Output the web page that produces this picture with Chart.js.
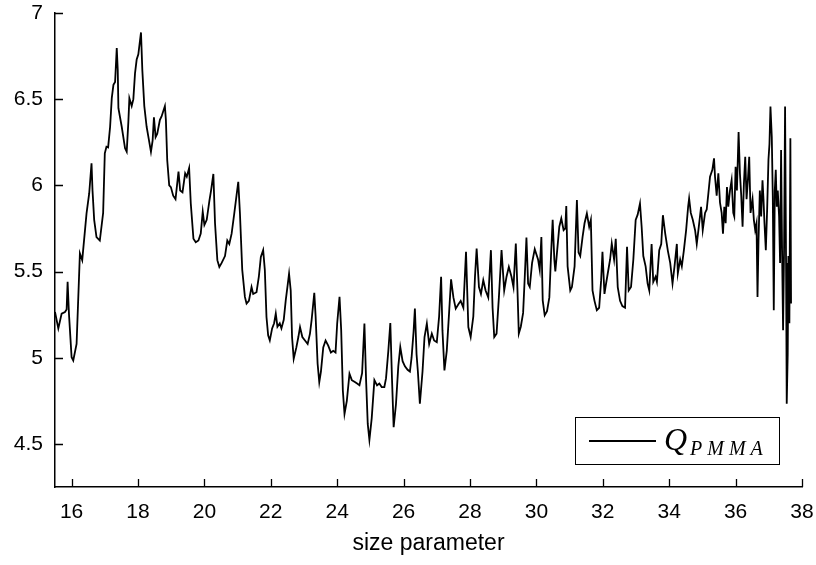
<!DOCTYPE html>
<html>
<head>
<meta charset="utf-8">
<script src="https://cdn.jsdelivr.net/npm/chart.js@4/dist/chart.umd.min.js"></script>
<style>
  html, body { margin: 0; padding: 0; background: #fff; }
  #wrap { width: 816px; height: 565px; }
</style>
</head>
<body>
<div id="wrap"><canvas id="myChart" width="816" height="565"></canvas></div>
<script>
// size parameter (x) and Q_PMMA (y)
var sizeParam = [
  15.50,15.60,15.70,15.80,15.85,15.88,15.92,16.00,16.05,16.15,16.25,16.32,16.45,16.53,16.60,16.63,16.68,16.75,16.85,16.95,
  17.00,17.05,17.10,17.16,17.21,17.26,17.31,17.36,17.39,17.41,17.51,17.61,17.66,17.71,17.74,17.81,17.86,17.91,17.96,18.01,
  18.09,18.13,18.19,18.26,18.33,18.39,18.44,18.48,18.53,18.58,18.66,18.71,18.76,18.81,18.84,18.88,18.94,18.99,19.06,19.13,
  19.22,19.27,19.34,19.42,19.47,19.54,19.59,19.67,19.74,19.82,19.89,19.95,20.00,20.07,20.15,20.20,20.27,20.32,20.39,20.45,
  20.52,20.62,20.69,20.75,20.82,20.90,20.97,21.02,21.07,21.14,21.22,21.27,21.34,21.42,21.47,21.57,21.64,21.70,21.77,21.82,
  21.87,21.92,21.97,22.04,22.10,22.15,22.20,22.27,22.32,22.39,22.45,22.50,22.55,22.60,22.64,22.69,22.77,22.83,22.88,22.95,
  23.03,23.11,23.18,23.23,23.31,23.35,23.41,23.46,23.51,23.58,23.65,23.73,23.81,23.88,23.95,24.00,24.07,24.12,24.17,24.22,
  24.29,24.37,24.44,24.52,24.60,24.67,24.75,24.82,24.87,24.92,24.97,25.04,25.12,25.20,25.27,25.34,25.42,25.47,25.54,25.60,
  25.65,25.70,25.77,25.84,25.90,25.97,26.04,26.12,26.19,26.24,26.30,26.34,26.39,26.43,26.49,26.57,26.63,26.70,26.77,26.85,
  26.92,27.00,27.07,27.13,27.17,27.23,27.30,27.37,27.43,27.50,27.57,27.65,27.72,27.80,27.88,27.95,28.02,28.10,28.15,28.20,
  28.27,28.33,28.40,28.47,28.55,28.63,28.68,28.73,28.80,28.87,28.95,29.03,29.10,29.17,29.25,29.31,29.38,29.43,29.47,29.53,
  29.60,29.65,29.70,29.75,29.80,29.87,29.95,30.05,30.10,30.15,30.19,30.25,30.32,30.39,30.44,30.49,30.54,30.57,30.62,30.69,
  30.75,30.82,30.87,30.90,30.94,31.02,31.07,31.15,31.22,31.27,31.32,31.39,31.45,31.52,31.59,31.64,31.69,31.75,31.82,31.89,
  31.95,31.99,32.05,32.09,32.15,32.22,32.27,32.34,32.39,32.45,32.52,32.59,32.67,32.73,32.78,32.85,32.92,32.99,33.05,33.12,
  33.17,33.22,33.29,33.35,33.40,33.47,33.52,33.59,33.63,33.70,33.76,33.81,33.88,33.96,34.03,34.10,34.16,34.23,34.26,34.33,
  34.38,34.44,34.51,34.57,34.60,34.65,34.71,34.78,34.83,34.88,34.96,35.01,35.08,35.13,35.18,35.23,35.30,35.35,35.38,35.43,
  35.48,35.53,35.58,35.62,35.66,35.70,35.74,35.78,35.83,35.88,35.93,35.96,36.00,36.04,36.09,36.13,36.17,36.21,36.25,36.29,
  36.33,36.37,36.41,36.45,36.51,36.55,36.59,36.63,36.66,36.69,36.73,36.77,36.81,36.84,36.87,36.91,36.95,36.99,37.02,37.05,
  37.09,37.12,37.15,37.18,37.21,37.24,37.27,37.31,37.34,37.37,37.40,37.43,37.46,37.49,37.52,37.54,37.57,37.59,37.62,37.65,
  37.67
];
var qPMMA = [
  5.265,5.17,5.256,5.265,5.28,5.44,5.256,5.003,4.984,5.08,5.605,5.566,5.837,5.953,6.128,5.97,5.80,5.70,5.68,5.84,
  6.186,6.224,6.22,6.34,6.506,6.583,6.60,6.797,6.67,6.448,6.34,6.215,6.195,6.37,6.506,6.46,6.50,6.65,6.73,6.76,
  6.887,6.67,6.46,6.34,6.263,6.195,6.26,6.395,6.28,6.30,6.38,6.40,6.43,6.46,6.38,6.147,6.00,5.99,5.94,5.92,
  6.08,5.97,5.96,6.07,6.05,6.10,5.895,5.69,5.67,5.68,5.72,5.847,5.77,5.80,5.91,5.97,6.066,5.78,5.566,5.527,
  5.55,5.59,5.68,5.66,5.72,5.837,5.945,6.021,5.84,5.51,5.353,5.314,5.33,5.41,5.37,5.38,5.47,5.585,5.624,5.51,
  5.236,5.13,5.10,5.17,5.20,5.256,5.18,5.20,5.17,5.22,5.333,5.41,5.488,5.39,5.12,4.994,5.06,5.12,5.178,5.12,
  5.10,5.08,5.14,5.22,5.376,5.24,4.965,4.858,4.92,5.06,5.10,5.07,5.03,5.04,5.03,5.20,5.353,5.16,4.81,4.674,
  4.75,4.907,4.87,4.86,4.85,4.84,4.91,5.198,4.87,4.616,4.523,4.65,4.87,4.84,4.85,4.83,4.83,4.88,5.04,5.201,
  4.88,4.597,4.73,4.95,5.062,4.98,4.95,4.93,4.92,5.00,5.15,5.285,5.02,4.92,4.733,4.92,5.12,5.198,5.08,5.14,
  5.10,5.09,5.24,5.469,5.16,4.926,5.04,5.26,5.455,5.35,5.285,5.31,5.33,5.29,5.614,5.178,5.12,5.24,5.47,5.634,
  5.41,5.37,5.45,5.39,5.35,5.624,5.29,5.12,5.14,5.35,5.624,5.39,5.47,5.527,5.47,5.41,5.663,5.39,5.14,5.18,
  5.26,5.47,5.698,5.43,5.41,5.55,5.63,5.57,5.51,5.70,5.333,5.246,5.27,5.35,5.59,5.80,5.57,5.50,5.61,5.76,
  5.808,5.74,5.75,5.88,5.53,5.39,5.41,5.53,5.915,5.61,5.59,5.70,5.78,5.837,5.76,5.80,5.39,5.33,5.276,5.29,
  5.45,5.614,5.37,5.42,5.49,5.57,5.663,5.57,5.69,5.41,5.33,5.30,5.29,5.643,5.39,5.41,5.57,5.80,5.83,5.895,
  5.76,5.59,5.53,5.43,5.39,5.66,5.44,5.47,5.44,5.624,5.66,5.827,5.72,5.62,5.55,5.43,5.53,5.66,5.49,5.57,
  5.53,5.62,5.74,5.876,5.924,5.84,5.80,5.74,5.66,5.74,5.876,5.74,5.84,5.86,5.953,6.05,6.09,6.157,6.05,5.94,
  6.07,5.90,5.84,5.72,5.876,5.78,5.99,5.876,5.97,6.03,5.84,5.82,6.108,5.97,6.31,6.07,5.94,5.76,6.01,6.166,
  5.92,6.03,6.166,5.84,5.92,5.80,5.74,5.78,5.353,5.68,5.97,5.82,6.03,5.92,5.78,5.624,5.86,6.15,6.24,6.457,
  6.28,5.94,5.276,5.97,6.09,5.876,5.97,5.82,5.55,6.205,5.62,5.16,5.63,6.457,5.55,4.733,5.023,5.59,5.20,6.273,
  5.314
];
var xTicks = [16, 18, 20, 22, 24, 26, 28, 30, 32, 34, 36, 38];
var yTicks = [4.5, 5, 5.5, 6, 6.5, 7];
var xLabel = 'size parameter';

var points = [];
for (var i = 0; i < sizeParam.length; i++) {
  points.push({ x: sizeParam[i], y: qPMMA[i] });
}

// tick marks pointing into the plot, like the original
var innerTicks = {
  id: 'innerTicks',
  afterDraw: function (chart) {
    var c = chart.ctx, a = chart.chartArea;
    var xs = chart.scales.x, ys = chart.scales.y;
    c.save();
    c.strokeStyle = '#000';
    c.lineWidth = 1.3;
    c.beginPath();
    xTicks.forEach(function (v) {
      var px = Math.round(xs.getPixelForValue(v)) + 0.5;
      c.moveTo(px, a.bottom);
      c.lineTo(px, a.bottom - 8);
    });
    yTicks.forEach(function (v) {
      var py = Math.round(ys.getPixelForValue(v)) + 0.5;
      c.moveTo(a.left, py);
      c.lineTo(a.left + 8, py);
    });
    c.stroke();
    c.restore();
  }
};

// boxed legend with Q_PMMA in math italic
var mathLegend = {
  id: 'mathLegend',
  afterDraw: function (chart) {
    var c = chart.ctx;
    c.save();
    c.fillStyle = '#fff';
    c.fillRect(575, 417, 204, 47);
    c.strokeStyle = '#000';
    c.lineWidth = 1;
    c.strokeRect(575.5, 417.5, 204, 47);
    c.lineWidth = 1.8;
    c.beginPath();
    c.moveTo(589, 441);
    c.lineTo(656, 441);
    c.stroke();
    c.fillStyle = '#000';
    c.textBaseline = 'alphabetic';
    c.font = 'italic 32px "Liberation Serif"';
    c.fillText('Q', 664, 450);
    c.font = 'italic 20px "Liberation Serif"';
    c.letterSpacing = '5px';
    c.fillText('PMMA', 690, 455);
    c.restore();
  }
};

var ctx = document.getElementById('myChart');
var myChart = new Chart(ctx, {
  type: 'line',
  data: {
    datasets: [{
      label: 'Q_PMMA',
      data: points,
      borderColor: '#000',
      borderWidth: 1.8,
      pointRadius: 0,
      tension: 0,
      fill: false
    }]
  },
  options: {
    responsive: false,
    animation: false,
    layout: { padding: { top: 13, right: 14, left: 0, bottom: 0 } },
    plugins: {
      legend: { display: false },
      tooltip: { enabled: false }
    },
    scales: {
      x: {
        type: 'linear',
        min: 15.5,
        max: 38,
        afterBuildTicks: function (s) { s.ticks = xTicks.map(function (v) { return { value: v }; }); },
        afterFit: function (s) {
          s.height = 78;
          s.paddingLeft = 0;
          s.paddingRight = 0;
        },
        grid: { display: false, drawTicks: false },
        border: { display: true, color: '#000', width: 1.5 },
        ticks: {
          color: '#000',
          padding: 13,
          maxRotation: 0,
          callback: function (v) { return String(v); },
          font: { family: 'Liberation Sans', size: 21 }
        },
        title: {
          display: true,
          text: xLabel,
          color: '#000',
          padding: { top: 0, bottom: 8 },
          font: { family: 'Liberation Sans', size: 23 }
        }
      },
      y: {
        type: 'linear',
        min: 4.25,
        max: 7,
        afterBuildTicks: function (s) { s.ticks = yTicks.map(function (v) { return { value: v }; }); },
        afterFit: function (s) {
          s.width = 55;
          s.paddingTop = 0;
          s.paddingBottom = 0;
        },
        grid: { display: false, drawTicks: false },
        border: { display: true, color: '#000', width: 1.5 },
        ticks: {
          color: '#000',
          padding: 12,
          callback: function (v) { return String(v); },
          font: { family: 'Liberation Sans', size: 21 }
        }
      }
    }
  },
  plugins: [innerTicks, mathLegend]
});
</script>
</body>
</html>
